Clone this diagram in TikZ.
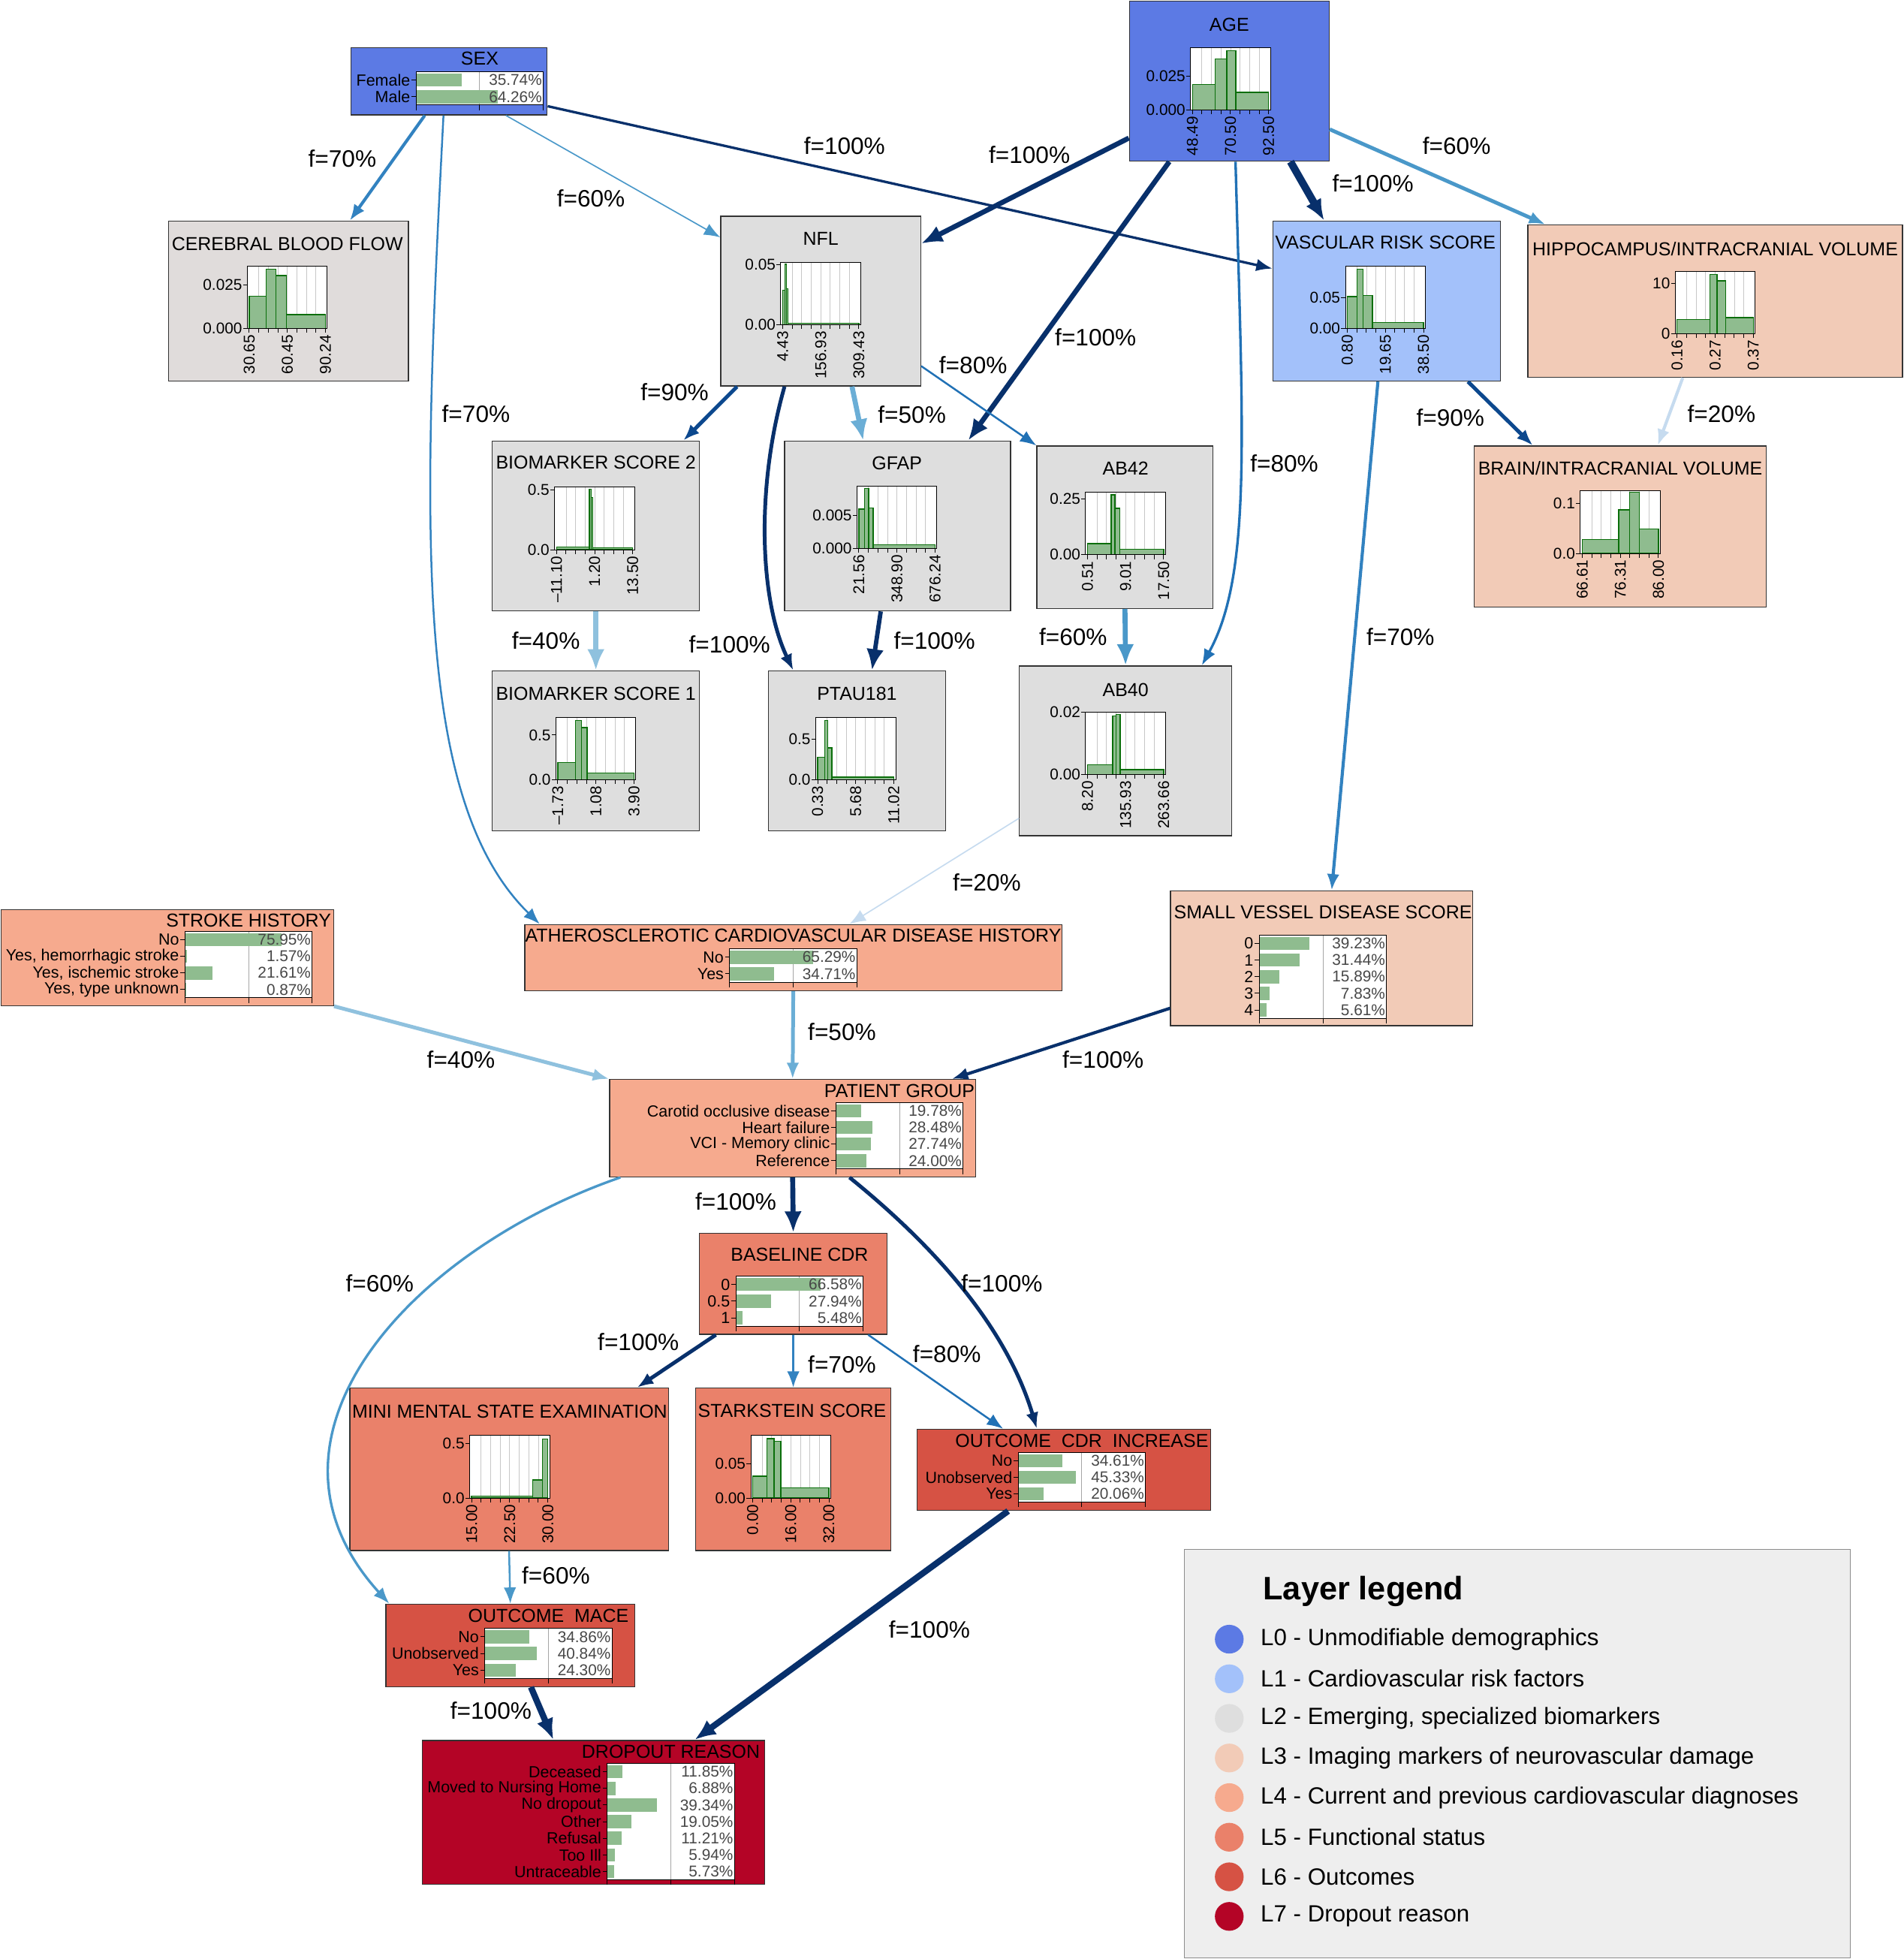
\documentclass[tikz,border=0pt]{standalone}
\usepackage{fontspec}
\setmainfont{Liberation Sans}
\usetikzlibrary{arrows.meta}

\definecolor{lzero}{RGB}{92,122,228}
\definecolor{lone}{RGB}{163,193,250}
\definecolor{ltwo}{RGB}{222,222,222}
\definecolor{ltwob}{RGB}{224,220,219}
\definecolor{lthree}{RGB}{242,203,183}
\definecolor{lfour}{RGB}{246,170,142}
\definecolor{lfive}{RGB}{234,129,106}
\definecolor{lsix}{RGB}{214,82,68}
\definecolor{lseven}{RGB}{180,4,38}
\definecolor{barfill}{RGB}{143,188,143}
\definecolor{barline}{RGB}{10,110,10}
\definecolor{legfill}{RGB}{238,238,238}
\definecolor{cA}{RGB}{8,48,107}
\definecolor{cB}{RGB}{12,72,142}
\definecolor{cC}{RGB}{33,113,181}
\definecolor{cD}{RGB}{50,130,192}
\definecolor{cE}{RGB}{74,152,201}
\definecolor{cF}{RGB}{107,174,214}
\definecolor{cG}{RGB}{143,193,222}
\definecolor{cH}{RGB}{198,219,239}

% histogram: id, x, y, bars, y ticks, three x labels
\newcommand{\histplot}[8]{%
  \begin{scope}[shift={(#2,#3)}]
    \fill[white] (0,0) rectangle (64,50);
    \foreach \i in {1,...,7} \draw[gridln] ({1.5+\i*7.625},0) -- ({1.5+\i*7.625},50);
    \foreach \xa/\xb/\hh in {#4} \draw[histbar] ({1.5+\xa*61},50) rectangle ({1.5+\xb*61},{50-\hh*50});
    \draw[axln] (0,0) rectangle (64,50);
    \foreach \i in {0,...,8} \draw[axln] ({1.5+\i*7.625},50) -- ({1.5+\i*7.625},53.5);
    \foreach \pv/\lbl [count=\k] in {#5} {
      \draw[axln] (0,{50-\pv*50}) -- (-3.5,{50-\pv*50});
      \node[axlab, anchor=east] (#1y\k) at (-3.5,{50-\pv*50}) {\lbl};}
    \node[axlab, rotate=90, anchor=east] (#1xa) at (1.5,54.5) {#6};
    \node[axlab, rotate=90, anchor=east] (#1xb) at (32,54.5) {#7};
    \node[axlab, rotate=90, anchor=east] (#1xc) at (62.5,54.5) {#8};
  \end{scope}}

% probability table: id, x, y, rows
\newcommand{\probtable}[4]{%
  \begin{scope}[shift={(#2,#3)}]
    \foreach \lbl/\pv [count=\k] in {#4} {\xdef\nrows{\k}}
    \fill[white] (0,0) rectangle (102,{\nrows*13.3});
    \draw[midln] (51,0) -- (51,{\nrows*13.3});
    \foreach \lbl/\pv [count=\k] in {#4} {
      \fill[barfill] (0,{(\k-1)*13.3+1.4}) rectangle ({\pv*1.02},{\k*13.3-1.4});
      \node[pct, anchor=east] (#1p\k) at (101.5,{(\k-0.5)*13.3}) {\pv\%};
      \draw[axln] (0,{(\k-0.5)*13.3}) -- (-3.5,{(\k-0.5)*13.3});
      \node[catlab, anchor=east] (#1c\k) at (-4,{(\k-0.5)*13.3}) {\lbl};}
    \draw[axln] (0,0) rectangle (102,{\nrows*13.3});
    \foreach \xt in {0,51,102} \draw[axln] (\xt,{\nrows*13.3}) -- (\xt,{\nrows*13.3+4});
  \end{scope}}

\begin{document}
\begin{tikzpicture}[x=1pt, y=-1pt,
    var/.style={rectangle, draw=black!80, line width=0.8pt, inner sep=0pt},
    ttl/.style={font=\fontsize{15}{15}\selectfont, inner sep=0pt},
    flab/.style={font=\fontsize{19}{19}\selectfont, inner sep=0pt},
    axlab/.style={font=\fontsize{12.5}{12.5}\selectfont, inner sep=0.5pt},
    catlab/.style={font=\fontsize{12.9}{12.9}\selectfont, inner sep=0.5pt},
    pct/.style={font=\fontsize{12.5}{12.5}\selectfont, text=black!72, inner sep=0.5pt},
    histbar/.style={fill=barfill, draw=barline, line width=0.8pt},
    gridln/.style={draw=black!22, line width=0.5pt},
    axln/.style={draw=black, line width=0.6pt},
    midln/.style={draw=black!35, line width=0.6pt},
    link/.style={-{Latex[length=13pt,width=10pt]}},
    bigtip/.style={-{Latex[length=17pt,width=14pt]}},
    leg/.style={font=\fontsize{18.8}{18.8}\selectfont, inner sep=0pt, anchor=west}
]
    \useasboundingbox (0,0) rectangle (1524,1568);

    % layer 0 and 1
    \node[var, fill=lzero, minimum width=157pt, minimum height=54pt] (sex) at (359.5,65) {};
    \node[ttl] (sexttl) at (384,47) {SEX};
    \probtable{sx}{333}{57.5}{Female/35.74, Male/64.26}

    \node[var, fill=lzero, minimum width=160pt, minimum height=128pt] (age) at (984,65) {};
    \node[ttl] (agettl) at (984,20) {AGE};
    \histplot{ag}{953}{38}{0/0.30/0.405, 0.30/0.45/0.82, 0.45/0.57/0.95, 0.57/1/0.28}{0.54/0.025, 0/0.000}{48.49}{70.50}{92.50}

    \node[var, fill=lone, minimum width=182pt, minimum height=128pt] (vrs) at (1110,241) {};
    \node[ttl] (vrsttl) at (1109,194) {VASCULAR RISK SCORE};
    \histplot{vr}{1077}{213}{0/0.127/0.514, 0.127/0.206/0.949, 0.206/0.328/0.53, 0.328/1/0.098}{0.5/0.05, 0/0.00}{0.80}{19.65}{38.50}

    % layer 2
    \node[var, fill=ltwob, minimum width=192pt, minimum height=128pt] (cbf) at (231,241) {};
    \node[ttl] (cbfttl) at (230,195) {CEREBRAL BLOOD FLOW};
    \histplot{cb}{198}{213}{0/0.223/0.516, 0.223/0.35/0.952, 0.35/0.49/0.849, 0.49/1/0.222}{0.70/0.025, 0/0.000}{30.65}{60.45}{90.24}

    \node[var, fill=ltwo, minimum width=160pt, minimum height=136pt] (nfl) at (657,241) {};
    \node[ttl] (nflttl) at (657,191) {NFL};
    \histplot{nf}{625}{210}{0/0.03/0.556, 0.03/0.05/0.968, 0.05/0.07/0.58, 0.07/1/0.028}{0.96/0.05, 0/0.00}{4.43}{156.93}{309.43}

    \node[var, fill=ltwo, minimum width=166pt, minimum height=136pt] (bs2) at (477,421) {};
    \node[ttl] (bs2ttl) at (477,370) {BIOMARKER SCORE 2};
    \histplot{bt}{444}{390}{0/0.43/0.044, 0.43/0.454/0.968, 0.454/0.478/0.836, 0.478/1/0.032}{0.96/0.5, 0/0.0}{\textendash11.10}{1.20}{13.50}

    \node[var, fill=ltwo, minimum width=181pt, minimum height=136pt] (gfap) at (718.5,421) {};
    \node[ttl] (gfapttl) at (718,371) {GFAP};
    \histplot{gf}{686}{389}{0/0.073/0.632, 0.073/0.127/0.96, 0.127/0.188/0.652, 0.188/1/0.063}{0.534/0.005, 0/0.000}{21.56}{348.90}{676.24}

    \node[var, fill=ltwo, minimum width=141pt, minimum height=130pt] (ab42) at (900.5,422) {};
    \node[ttl] (ab42ttl) at (901,375) {AB42};
    \histplot{aa}{869}{394}{0/0.311/0.178, 0.311/0.36/0.957, 0.36/0.427/0.743, 0.427/1/0.091}{0.889/0.25, 0/0.00}{0.51}{9.01}{17.50}

    \node[var, fill=ltwo, minimum width=166pt, minimum height=128pt] (bs1) at (477,601) {};
    \node[ttl] (bs1ttl) at (477,555) {BIOMARKER SCORE 1};
    \histplot{bo}{445}{574}{0/0.234/0.27, 0.234/0.31/0.949, 0.31/0.386/0.831, 0.386/1/0.102}{0.714/0.5, 0/0.0}{\textendash1.73}{1.08}{3.90}

    \node[var, fill=ltwo, minimum width=142pt, minimum height=128pt] (ptau) at (686,601) {};
    \node[ttl] (ptauttl) at (686,555) {PTAU181};
    \histplot{pt}{653}{574}{0/0.094/0.36, 0.094/0.131/0.949, 0.131/0.188/0.51, 0.188/1/0.039}{0.643/0.5, 0/0.0}{0.33}{5.68}{11.02}

    \node[var, fill=ltwo, minimum width=170pt, minimum height=136pt] (ab40) at (901,601) {};
    \node[ttl] (ab40ttl) at (901,552) {AB40};
    \histplot{ab}{869}{570}{0/0.331/0.16, 0.331/0.374/0.936, 0.374/0.43/0.964, 0.43/1/0.08}{1/0.02, 0/0.00}{8.20}{135.93}{263.66}

    % layer 3
    \node[var, fill=lthree, minimum width=300pt, minimum height=122pt] (hippo) at (1373,241) {};
    \node[ttl] (hippottl) at (1373,199) {HIPPOCAMPUS/INTRACRANIAL VOLUME};
    \histplot{hp}{1341}{217}{0/0.428/0.224, 0.428/0.524/0.945, 0.524/0.636/0.846, 0.636/1/0.256}{0.80/10, 0/0}{0.16}{0.27}{0.37}

    \node[var, fill=lthree, minimum width=234pt, minimum height=129pt] (brain) at (1297,421.5) {};
    \node[ttl] (brainttl) at (1297,375) {BRAIN/INTRACRANIAL VOLUME};
    \histplot{br}{1265}{393}{0/0.48/0.22, 0.48/0.62/0.7, 0.62/0.75/0.98, 0.75/1/0.39}{0.8/0.1, 0/0.0}{66.61}{76.31}{86.00}

    \node[var, fill=lthree, minimum width=242pt, minimum height=108pt] (svd) at (1058,767) {};
    \node[ttl] (svdttl) at (1059,730) {SMALL VESSEL DISEASE SCORE};
    \probtable{sv}{1008}{748.5}{0/39.23, 1/31.44, 2/15.89, 3/7.83, 4/5.61}

    % layer 4
    \node[var, fill=lfour, minimum width=266pt, minimum height=77pt] (stroke) at (134,766.5) {};
    \node[ttl] (strokettl) at (199,737) {STROKE HISTORY};
    \probtable{st}{148}{745.5}{No/75.95, {Yes, hemorrhagic stroke}/1.57, {Yes, ischemic stroke}/21.61, {Yes, type unknown}/0.87}

    \node[var, fill=lfour, minimum width=430pt, minimum height=53pt] (athero) at (635,766.5) {};
    \node[ttl] (atherottl) at (635,749) {ATHEROSCLEROTIC CARDIOVASCULAR DISEASE HISTORY};
    \probtable{at}{584}{759.5}{No/65.29, Yes/34.71}

    \node[var, fill=lfour, minimum width=293pt, minimum height=78pt] (patient) at (634.5,903) {};
    \node[ttl] (patientttl) at (720,873) {PATIENT GROUP};
    \probtable{pg}{669}{882.5}{Carotid occlusive disease/19.78, Heart failure/28.48, VCI - Memory clinic/27.74, Reference/24.00}

    % layer 5
    \node[var, fill=lfive, minimum width=150pt, minimum height=81pt] (baseline) at (635,1027.5) {};
    \node[ttl] (baselinettl) at (640,1004) {BASELINE CDR};
    \probtable{bc}{589}{1021.5}{0/66.58, 0.5/27.94, 1/5.48}

    \node[var, fill=lfive, minimum width=255pt, minimum height=130pt] (mmse) at (407.5,1176) {};
    \node[ttl] (mmsettl) at (408,1130) {MINI MENTAL STATE EXAMINATION};
    \histplot{mm}{376}{1149}{0/0.80/0.028, 0.80/0.93/0.29, 0.93/1/0.945}{0.877/0.5, 0/0.0}{15.00}{22.50}{30.00}

    \node[var, fill=lfive, minimum width=156pt, minimum height=130pt] (stark) at (635,1176) {};
    \node[ttl] (starkttl) at (634,1129) {STARKSTEIN SCORE};
    \histplot{sk}{601}{1149}{0/0.184/0.35, 0.184/0.279/0.949, 0.279/0.368/0.909, 0.368/1/0.162}{0.55/0.05, 0/0.00}{0.00}{16.00}{32.00}

    % layer 6 and 7
    \node[var, fill=lsix, minimum width=235pt, minimum height=65pt] (ocdr) at (851.5,1176.5) {};
    \node[ttl] (ocdrttl) at (866,1153) {OUTCOME\ \ CDR\ \ INCREASE};
    \probtable{oc}{815}{1162.5}{No/34.61, Unobserved/45.33, Yes/20.06}

    \node[var, fill=lsix, minimum width=199pt, minimum height=66pt] (mace) at (408.5,1317) {};
    \node[ttl] (macettl) at (439,1293) {OUTCOME\ \ MACE};
    \probtable{om}{388}{1303.5}{No/34.86, Unobserved/40.84, Yes/24.30}

    \node[var, fill=lseven, minimum width=274pt, minimum height=115pt] (dropout) at (475,1450.5) {};
    \node[ttl] (dropoutttl) at (537,1402) {DROPOUT REASON};
    \probtable{dr}{486}{1411.5}{Deceased/11.85, Moved to Nursing Home/6.88, No dropout/39.34, Other/19.05, Refusal/11.21, Too Ill/5.94, Untraceable/5.73}

    % connectors
    \draw[cD, line width=2.5pt, link] ([xshift=-19.5pt]sex.south) -- ([xshift=49pt]cbf.north);
    \draw[cE, line width=1pt, link] ([xshift=45.5pt]sex.south) -- ([yshift=51pt]nfl.west);
    \draw[cD, line width=1.5pt, link] ([xshift=-4.5pt]sex.south) .. controls (338,420) and (330,640) .. ([xshift=-203pt]athero.north);
    \draw[cA, line width=2pt, link] ([yshift=-20pt]sex.east) -- ([yshift=26pt]vrs.west);
    \draw[cA, line width=4pt, bigtip] ([yshift=-45.5pt]age.west) -- ([yshift=46pt]nfl.east);
    \draw[cA, line width=6pt, bigtip] ([xshift=49pt]age.south) -- ([xshift=-50pt]vrs.north);
    \draw[cE, line width=3pt, link] ([yshift=-38.5pt]age.east) -- ([xshift=-136pt]hippo.north);
    \draw[cA, line width=4pt, bigtip] ([xshift=-48pt]age.south) -- ([xshift=56.5pt]gfap.north);
    \draw[cC, line width=2pt, link] ([xshift=5pt]age.south) .. controls (995,350) and (1002,460) .. ([xshift=61pt]ab40.north);
    \draw[cB, line width=3pt, link] ([xshift=-67pt]nfl.south) -- ([xshift=70pt]bs2.north);
    \draw[cA, line width=3pt, link] ([xshift=-29pt]nfl.south) .. controls (605,390) and (608,480) .. ([xshift=-51pt]ptau.north);
    \draw[cF, line width=4pt, bigtip] ([xshift=25pt]nfl.south) -- ([xshift=-27.5pt]gfap.north);
    \draw[cC, line width=1.5pt, link] ([yshift=-52pt]nfl.east) -- (ab42.north west);
    \draw[cG, line width=4pt, bigtip] (bs2.south) -- (bs1.north);
    \draw[cA, line width=3.5pt, bigtip] ([xshift=-13.5pt]gfap.south) -- ([xshift=12pt]ptau.north);
    \draw[cE, line width=4pt, bigtip] (ab42.south) -- (ab40.north);
    \draw[cH, line width=1pt, link] ([yshift=-54pt]ab40.west) -- ([xshift=45pt]athero.north);
    \draw[cD, line width=2.5pt, link] ([xshift=-7pt]vrs.south) -- ([xshift=8pt]svd.north);
    \draw[cB, line width=3pt, link] ([xshift=65pt]vrs.south) -- ([xshift=-70pt]brain.north);
    \draw[cH, line width=2.5pt, link] ([xshift=-26pt]hippo.south) -- ([xshift=30pt]brain.north);
    \draw[cG, line width=3pt, link] (stroke.south east) -- (patient.north west);
    \draw[cF, line width=3pt, link] (athero.south) -- (patient.north);
    \draw[cA, line width=2.5pt, link] ([yshift=-40pt]svd.west) -- ([xshift=127.5pt]patient.north);
    \draw[cA, line width=4pt, bigtip] (patient.south) -- (baseline.north);
    \draw[cE, line width=2pt, link] ([xshift=9pt]patient.south west) .. controls (330,1000) and (190,1150) .. ([xshift=3pt]mace.north west);
    \draw[cA, line width=3pt, link] ([xshift=45.5pt]patient.south) .. controls (745,995) and (805,1060) .. ([xshift=-21.5pt]ocdr.north);
    \draw[cA, line width=3pt, link] ([xshift=-62pt]baseline.south) -- ([xshift=102.5pt]mmse.north);
    \draw[cD, line width=1.5pt, link] (baseline.south) -- (stark.north);
    \draw[cC, line width=1.5pt, link] ([xshift=60pt]baseline.south) -- ([xshift=-48.5pt]ocdr.north);
    \draw[cE, line width=1.5pt, link] (mmse.south) -- (mace.north);
    \draw[cA, line width=5pt, bigtip] ([xshift=-44.5pt]ocdr.south) -- ([xshift=81pt]dropout.north);
    \draw[cA, line width=5pt, bigtip] ([xshift=16.5pt]mace.south) -- ([xshift=-32pt]dropout.north);

    % connector labels
    \node[flab] (fa) at (274,127) {f=70\%};
    \node[flab] (fb) at (473,159) {f=60\%};
    \node[flab] (fc) at (381,331) {f=70\%};
    \node[flab] (fd) at (676,117) {f=100\%};
    \node[flab] (fe) at (824,124) {f=100\%};
    \node[flab] (ff) at (1099,147) {f=100\%};
    \node[flab] (fg) at (1166,117) {f=60\%};
    \node[flab] (fh) at (877,270) {f=100\%};
    \node[flab] (fi) at (1028,371) {f=80\%};
    \node[flab] (fj) at (540,314) {f=90\%};
    \node[flab] (fk) at (584,516) {f=100\%};
    \node[flab] (fl) at (730,332) {f=50\%};
    \node[flab] (fm) at (779,292) {f=80\%};
    \node[flab] (fn) at (437,513) {f=40\%};
    \node[flab] (fo) at (748,513) {f=100\%};
    \node[flab] (fp) at (859,510) {f=60\%};
    \node[flab] (fq) at (790,706) {f=20\%};
    \node[flab] (fr) at (1121,510) {f=70\%};
    \node[flab] (fs) at (1161,334) {f=90\%};
    \node[flab] (ft) at (1378,331) {f=20\%};
    \node[flab] (fu) at (369,848) {f=40\%};
    \node[flab] (fv) at (674,826) {f=50\%};
    \node[flab] (fw) at (883,848) {f=100\%};
    \node[flab] (fx) at (589,962) {f=100\%};
    \node[flab] (fy) at (304,1027) {f=60\%};
    \node[flab] (fz) at (802,1027) {f=100\%};
    \node[flab] (gA) at (511,1074) {f=100\%};
    \node[flab] (gB) at (674,1092) {f=70\%};
    \node[flab] (gC) at (758,1084) {f=80\%};
    \node[flab] (gD) at (445,1261) {f=60\%};
    \node[flab] (gE) at (744,1304) {f=100\%};
    \node[flab] (gF) at (393,1369) {f=100\%};

    % legend
    \node[var, draw=black!45, fill=legfill, minimum width=533pt, minimum height=327pt] (legend) at (1214.5,1403.5) {};
    \node[font=\bfseries\fontsize{26}{26}\selectfont, inner sep=0pt, anchor=west] (legttl) at (1011,1274) {Layer legend};
    \foreach \c/\txt [count=\k from 0] in {lzero/{L0 - Unmodifiable demographics}, lone/{L1 - Cardiovascular risk factors}, ltwo/{L2 - Emerging, specialized biomarkers}, lthree/{L3 - Imaging markers of neurovascular damage}, lfour/{L4 - Current and previous cardiovascular diagnoses}, lfive/{L5 - Functional status}, lsix/{L6 - Outcomes}, lseven/{L7 - Dropout reason}} {
        \fill[\c] (984,{1312+\k*31.7}) circle (11.5pt);
        \node[leg] (leg\k) at (1009,{1312+\k*31.7}) {\txt};
    }
\end{tikzpicture}
\end{document}
